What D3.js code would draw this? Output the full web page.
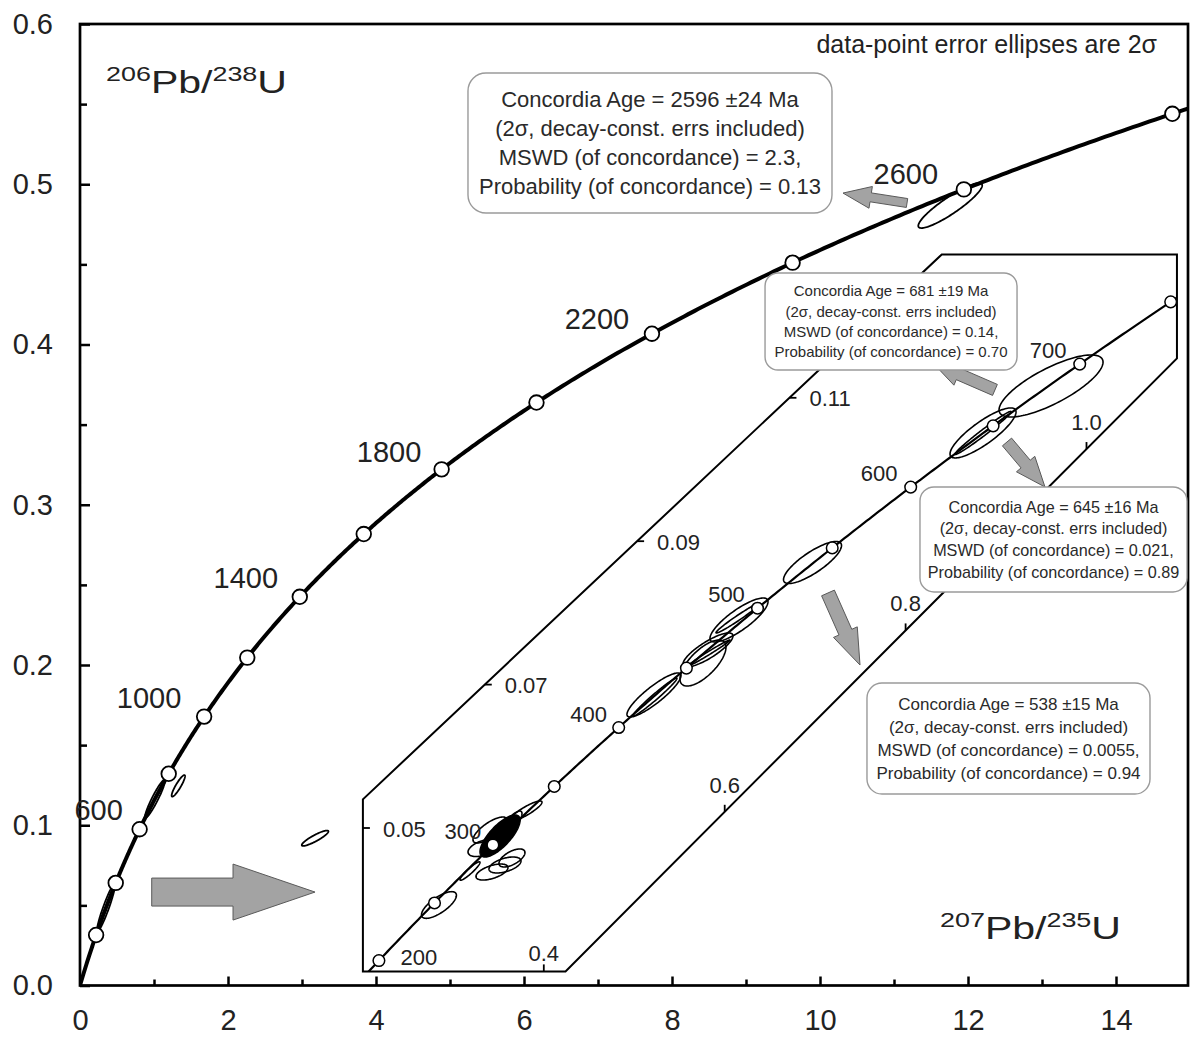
<!DOCTYPE html>
<html>
<head>
<meta charset="utf-8">
<title>U–Pb concordia diagram</title>
<script src="https://cdn.jsdelivr.net/npm/d3@7/dist/d3.min.js"></script>
<style>
  html, body { margin: 0; padding: 0; background: #fff; }
  svg { display: block; font-family: "Liberation Sans", Arial, Helvetica, sans-serif; }
</style>
</head>
<body>
<svg id="chart" width="1190" height="1037"></svg>
<script>
// ---------- decay constants (per Ma) ----------
const LAMBDA_238 = 1.55125e-4;
const LAMBDA_235 = 9.8485e-4;

// ---------- main diagram ----------
const mainXTicks = [0, 2, 4, 6, 8, 10, 12, 14];
const mainXMinorTicks = [1, 3, 5, 7, 9, 11, 13];
const mainYTicks = [0.0, 0.1, 0.2, 0.3, 0.4, 0.5, 0.6];
const mainYMinorTicks = [0.05, 0.15, 0.25, 0.35, 0.45, 0.55];
const mainMarkerAges = [200, 400, 600, 800, 1000, 1200, 1400, 1600, 1800, 2000, 2200, 2400, 2600, 2800];
const mainLabelAges = [600, 1000, 1400, 1800, 2200, 2600];
// analyses: 207Pb/235U, 206Pb/238U, 2-sigma errors, error correlation
const mainEllipses = [
  { x: 11.76,  y: 0.4867, sx: 0.432,  sy: 0.01404, rho: 0.90 },
  { x: 1.329,  y: 0.1246, sx: 0.0905, sy: 0.00674, rho: 0.90 },
  { x: 3.177,  y: 0.0919, sx: 0.180,  sy: 0.0048,  rho: 0.89 },
  { x: 0.351,  y: 0.0485, sx: 0.1216, sy: 0.01486, rho: 0.94 },
  { x: 1.0135, y: 0.1165, sx: 0.135,  sy: 0.0119,  rho: 0.94 }
];

// ---------- enlarged young part of concordia ----------
const insetXTicks = [0.4, 0.6, 0.8, 1.0];
const insetYTicks = [0.05, 0.07, 0.09, 0.11];
const insetMarkerAges = [200, 250, 300, 350, 400, 450, 500, 550, 600, 650, 700, 750];
const insetLabelAges = [200, 300, 400, 500, 600, 700];
// outline of the enlarged band (207Pb/235U, 206Pb/238U)
const insetFrame = [[0.2, 0.03], [0.2, 0.054], [0.84, 0.13], [1.1, 0.13], [1.1, 0.1155], [0.424, 0.03]];
const insetEllipses = [
  { x: 0.2841, y: 0.03926, sx: 0.0193,  sy: 0.00186,  rho: 0.73 },
  { x: 0.3328, y: 0.04721, sx: 0.01658, sy: 0.001186, rho: 0.47 },
  { x: 0.3571, y: 0.04484, sx: 0.01769, sy: 0.001116, rho: 0.50 },
  { x: 0.3427, y: 0.04386, sx: 0.01769, sy: 0.001116, rho: 0.55 },
  { x: 0.3648, y: 0.04582, sx: 0.01437, sy: 0.001255, rho: 0.60 },
  { x: 0.3184, y: 0.0440,  sx: 0.01106, sy: 0.001283, rho: 0.93 },
  { x: 0.3803, y: 0.05237, sx: 0.01769, sy: 0.001395, rho: 0.88 },
  { x: 0.3405, y: 0.04972, sx: 0.0188,  sy: 0.001813, rho: 0.75 },
  { x: 0.3604, y: 0.0500,  sx: 0.01548, sy: 0.00237,  rho: 0.85 },
  { x: 0.5218, y: 0.06855, sx: 0.02985, sy: 0.003068, rho: 0.88 },
  { x: 0.5229, y: 0.06827, sx: 0.02432, sy: 0.00265,  rho: 0.98 },
  { x: 0.5760, y: 0.07301, sx: 0.02543, sy: 0.003208, rho: 0.69 },
  { x: 0.5815, y: 0.07483, sx: 0.02764, sy: 0.00237,  rho: 0.83 },
  { x: 0.5826, y: 0.07441, sx: 0.02322, sy: 0.001813, rho: 0.99 },
  { x: 0.6158, y: 0.07901, sx: 0.03206, sy: 0.003068, rho: 0.83 },
  { x: 0.6147, y: 0.07929, sx: 0.02432, sy: 0.00209,  rho: 0.98 },
  { x: 0.6971, y: 0.08703, sx: 0.03206, sy: 0.00293,  rho: 0.81 },
  { x: 0.8856, y: 0.1051,  sx: 0.03648, sy: 0.003487, rho: 0.84 },
  { x: 0.8856, y: 0.1051,  sx: 0.0310,  sy: 0.00300,  rho: 0.985 },
  { x: 0.9608, y: 0.11165, sx: 0.05749, sy: 0.004324, rho: 0.77 }
];
// densely overlapping analyses near 300 Ma
const insetFilledEllipses = [
  { x: 0.3516, y: 0.04888, sx: 0.0221, sy: 0.00293, rho: 0.75 }
];

// ---------- concordia-age results ----------
const resultTexts = [
  ["Concordia Age = 2596 \u00b124 Ma", "(2\u03c3, decay-const. errs included)", "MSWD (of concordance) = 2.3,", "Probability (of concordance) = 0.13"],
  ["Concordia Age = 681 \u00b119 Ma", "(2\u03c3, decay-const. errs included)", "MSWD (of concordance) = 0.14,", "Probability (of concordance) = 0.70"],
  ["Concordia Age = 645 \u00b116 Ma", "(2\u03c3, decay-const. errs included)", "MSWD (of concordance) = 0.021,", "Probability (of concordance) = 0.89"],
  ["Concordia Age = 538 \u00b115 Ma", "(2\u03c3, decay-const. errs included)", "MSWD (of concordance) = 0.0055,", "Probability (of concordance) = 0.94"]
];

// ================= layout =================
const FONT = '"Liberation Sans", Arial, Helvetica, sans-serif';
const TEXT = "#222";
const svg = d3.select("#chart");

const plot = { left: 80, right: 1188, top: 24, bottom: 985.5 };
const x = d3.scaleLinear().domain([0, 15]).range([80, 1190]);
const y = d3.scaleLinear().domain([0, 0.6]).range([985.5, 24]);

const ix = d3.scaleLinear().domain([0.4, 1.0]).range([543.8, 1086.5]);
const iy = d3.scaleLinear().domain([0.05, 0.11]).range([828, 397.8]);

const conc = t => [Math.expm1(LAMBDA_235 * t), Math.expm1(LAMBDA_238 * t)];

function ellipsePoints(e, n = 120) {
  const k = Math.sqrt(1 - e.rho * e.rho);
  return d3.range(n).map(i => {
    const a = 2 * Math.PI * i / n, c = Math.cos(a), s = Math.sin(a);
    return [e.x + e.sx * c, e.y + e.sy * (e.rho * c + k * s)];
  });
}

const mainLabelOffsets = [[-41, -9], [-55, -9], [-54, -9], [-52.6, -7], [-55, -5], [-58, -5]];
const insetLabelOffsets = [[40, 4], [-30, -6], [-30, -6], [-31, -6.5], [-31.6, -6.4], [-31.5, -6]];

const boxLayout = [
  { panel: "main",  x0: 5.243,  x1: 10.162, y0: 0.4821,  y1: 0.5694, fontSize: 22, lineGap: 29,   radius: 18 },
  { panel: "inset", x0: 0.6446, x1: 0.9232, y0: 0.11388, y1: 0.1274, fontSize: 15, lineGap: 20.3, radius: 13 },
  { panel: "inset", x0: 0.8159, x1: 1.1111, y0: 0.08292, y1: 0.09756, fontSize: 16.2, lineGap: 21.7, radius: 14 },
  { panel: "inset", x0: 0.7573, x1: 1.0702, y0: 0.05474, y1: 0.07022, fontSize: 17, lineGap: 22.8, radius: 15 }
];

const arrowLayout = [
  { panel: "main",  tail: [0.969, 0.0583],   tip: [3.176, 0.0583],   shaft: 14,  head: 28, headLen: 82 },
  { panel: "main",  tail: [11.176, 0.4883],  tip: [10.311, 0.4945],  shaft: 4.5, head: 11, headLen: 28 },
  { panel: "inset", tail: [0.8988, 0.1111],  tip: [0.8303, 0.11485], shaft: 6,   head: 12, headLen: 28 },
  { panel: "inset", tail: [0.9121, 0.10384], tip: [0.9541, 0.09756], shaft: 6,   head: 12, headLen: 30 },
  { panel: "inset", tail: [0.7142, 0.08278], tip: [0.7496, 0.07273], shaft: 7,   head: 13, headLen: 36 }
];

const proj = panel => panel === "main" ? (p => [x(p[0]), y(p[1])]) : (p => [ix(p[0]), iy(p[1])]);

// ---------- clip paths ----------
const defs = svg.append("defs");
defs.append("clipPath").attr("id", "clip-main")
  .append("rect").attr("x", plot.left).attr("y", plot.top)
  .attr("width", plot.right - plot.left).attr("height", plot.bottom - plot.top);
defs.append("clipPath").attr("id", "clip-inset")
  .append("polygon").attr("points", insetFrame.map(p => [ix(p[0]), iy(p[1])].join(",")).join(" "));

// ---------- axes ----------
const yAxis = svg.append("g").attr("transform", `translate(${plot.left},0)`)
  .call(d3.axisLeft(y).tickValues(mainYTicks).tickSize(-10).tickPadding(27).tickFormat(d3.format(".1f")));
const yMinor = svg.append("g").attr("transform", `translate(${plot.left},0)`)
  .call(d3.axisLeft(y).tickValues(mainYMinorTicks).tickSize(-7).tickFormat(""));
const xAxis = svg.append("g").attr("transform", `translate(0,${plot.bottom})`)
  .call(d3.axisBottom(x).tickValues(mainXTicks).tickSize(-9).tickPadding(24).tickFormat(d3.format("d")));
const xMinor = svg.append("g").attr("transform", `translate(0,${plot.bottom})`)
  .call(d3.axisBottom(x).tickValues(mainXMinorTicks).tickSize(-6).tickFormat(""));
[yAxis, yMinor, xAxis, xMinor].forEach(g => {
  g.select(".domain").remove();
  g.attr("font-family", FONT).attr("font-size", 29);
  g.selectAll(".tick line").attr("stroke", "#000").attr("stroke-width", 2.5);
  g.selectAll(".tick text").attr("fill", TEXT);
});
xAxis.selectAll(".tick text").attr("dy", "0.71em");

// plot frame
svg.append("rect")
  .attr("x", plot.left).attr("y", plot.top)
  .attr("width", plot.right - plot.left).attr("height", plot.bottom - plot.top)
  .attr("fill", "none").attr("stroke", "#000").attr("stroke-width", 2.7);

// ---------- main concordia ----------
const mainG = svg.append("g").attr("clip-path", "url(#clip-main)");
const lineMain = d3.line().x(d => x(d[0])).y(d => y(d[1]));
const closedMain = d3.line().x(d => x(d[0])).y(d => y(d[1])).curve(d3.curveLinearClosed);
mainG.append("path")
  .attr("d", lineMain(d3.range(0, 3001, 5).map(conc)))
  .attr("fill", "none").attr("stroke", "#000").attr("stroke-width", 4);

mainG.selectAll("path.ell").data(mainEllipses).join("path")
  .attr("class", "ell")
  .attr("d", e => closedMain(ellipsePoints(e)))
  .attr("fill", "none").attr("stroke", "#000").attr("stroke-width", 1.8);

mainG.selectAll("circle").data(mainMarkerAges).join("circle")
  .attr("cx", t => x(conc(t)[0])).attr("cy", t => y(conc(t)[1])).attr("r", 7.3)
  .attr("fill", "#fff").attr("stroke", "#000").attr("stroke-width", 1.8);

svg.append("g").selectAll("text").data(mainLabelAges).join("text")
  .attr("x", (t, i) => x(conc(t)[0]) + mainLabelOffsets[i][0])
  .attr("y", (t, i) => y(conc(t)[1]) + mainLabelOffsets[i][1])
  .attr("text-anchor", "middle").attr("font-size", 29).attr("fill", TEXT)
  .text(t => t);

// ---------- enlarged band ----------
const insetG = svg.append("g");
insetG.append("polygon")
  .attr("points", insetFrame.map(p => [ix(p[0]), iy(p[1])].join(",")).join(" "))
  .attr("fill", "#fff").attr("stroke", "#000").attr("stroke-width", 2).attr("stroke-linejoin", "miter");

const lineInset = d3.line().x(d => ix(d[0])).y(d => iy(d[1]));
const closedInset = d3.line().x(d => ix(d[0])).y(d => iy(d[1])).curve(d3.curveLinearClosed);
const insetClip = insetG.append("g").attr("clip-path", "url(#clip-inset)");
insetClip.append("path")
  .attr("d", lineInset(d3.range(180, 772, 2).map(conc)))
  .attr("fill", "none").attr("stroke", "#000").attr("stroke-width", 2.2);

insetClip.selectAll("path.ell").data(insetEllipses).join("path")
  .attr("class", "ell")
  .attr("d", e => closedInset(ellipsePoints(e)))
  .attr("fill", "none").attr("stroke", "#000").attr("stroke-width", 1.6);
insetClip.selectAll("path.fill").data(insetFilledEllipses).join("path")
  .attr("class", "fill")
  .attr("d", e => closedInset(ellipsePoints(e)))
  .attr("fill", "#000").attr("stroke", "#000").attr("stroke-width", 1.6);

insetClip.selectAll("circle").data(insetMarkerAges).join("circle")
  .attr("cx", t => ix(conc(t)[0])).attr("cy", t => iy(conc(t)[1])).attr("r", 5.8)
  .attr("fill", "#fff").attr("stroke", "#000").attr("stroke-width", 1.5);

insetG.selectAll("text.age").data(insetLabelAges).join("text")
  .attr("class", "age")
  .attr("x", (t, i) => ix(conc(t)[0]) + insetLabelOffsets[i][0])
  .attr("y", (t, i) => iy(conc(t)[1]) + insetLabelOffsets[i][1])
  .attr("text-anchor", "middle").attr("font-size", 22).attr("fill", TEXT)
  .text(t => t);

// ticks placed where grid values meet the band outline
const edges = insetFrame.map((p, i) => [p, insetFrame[(i + 1) % insetFrame.length]]);
function yTickPoint(v) {
  let best = null;
  edges.forEach(([a, b]) => {
    if (a[1] === b[1]) return;
    const f = (v - a[1]) / (b[1] - a[1]);
    if (f < 0 || f > 1) return;
    const xv = a[0] + f * (b[0] - a[0]);
    if (!best || xv < best[0]) best = [xv, v];
  });
  return best;
}
function xTickPoint(v) {
  let best = null;
  edges.forEach(([a, b]) => {
    if (a[0] === b[0]) return;
    const f = (v - a[0]) / (b[0] - a[0]);
    if (f < 0 || f > 1) return;
    const yv = a[1] + f * (b[1] - a[1]);
    if (!best || yv < best[1]) best = [v, yv];
  });
  return best;
}
const yTickG = insetG.append("g").selectAll("g").data(insetYTicks).join("g")
  .attr("transform", v => { const p = yTickPoint(v); return `translate(${ix(p[0])},${iy(p[1])})`; });
yTickG.append("line").attr("x2", 7).attr("stroke", "#000").attr("stroke-width", 1.8);
yTickG.append("text").attr("x", 20).attr("y", 8.5).attr("font-size", 22).attr("fill", TEXT)
  .text(v => d3.format(".2f")(v));

const xTickG = insetG.append("g").selectAll("g").data(insetXTicks).join("g")
  .attr("transform", v => { const p = xTickPoint(v); return `translate(${ix(p[0])},${iy(p[1])})`; });
xTickG.append("line").attr("y2", -7).attr("stroke", "#000").attr("stroke-width", 1.8);
xTickG.append("text").attr("text-anchor", "middle")
  .attr("y", v => xTickPoint(v)[1] <= insetFrame[0][1] + 1e-9 ? -10 : -19)
  .attr("font-size", 22).attr("fill", TEXT)
  .text(v => d3.format(".1f")(v));

// ---------- pointer arrows ----------
function arrowPolygon(T, P, s, h, L) {
  const dx = P[0] - T[0], dy = P[1] - T[1], len = Math.hypot(dx, dy);
  const ux = dx / len, uy = dy / len, nx = -uy, ny = ux;
  const B = [P[0] - ux * L, P[1] - uy * L];
  return [
    [T[0] + nx * s, T[1] + ny * s], [B[0] + nx * s, B[1] + ny * s], [B[0] + nx * h, B[1] + ny * h],
    P,
    [B[0] - nx * h, B[1] - ny * h], [B[0] - nx * s, B[1] - ny * s], [T[0] - nx * s, T[1] - ny * s]
  ];
}
svg.append("g").selectAll("polygon").data(arrowLayout).join("polygon")
  .attr("points", a => {
    const pr = proj(a.panel);
    return arrowPolygon(pr(a.tail), pr(a.tip), a.shaft, a.head, a.headLen).map(p => p.join(",")).join(" ");
  })
  .attr("fill", "#a3a3a3").attr("stroke", "#5a5a5a").attr("stroke-width", 1).attr("stroke-linejoin", "miter");

// ---------- result boxes ----------
const boxG = svg.append("g").selectAll("g").data(boxLayout).join("g");
boxG.each(function (b, i) {
  const g = d3.select(this), pr = proj(b.panel);
  const p0 = pr([b.x0, b.y1]), p1 = pr([b.x1, b.y0]);
  const w = p1[0] - p0[0], h = p1[1] - p0[1];
  g.append("rect").attr("x", p0[0]).attr("y", p0[1]).attr("width", w).attr("height", h)
    .attr("rx", b.radius).attr("ry", b.radius)
    .attr("fill", "#fff").attr("stroke", "#9a9a9a").attr("stroke-width", 1.4);
  const first = p0[1] + (h - 3 * b.lineGap) / 2 + 0.35 * b.fontSize;
  g.selectAll("text").data(resultTexts[i]).join("text")
    .attr("x", p0[0] + w / 2).attr("y", (d, j) => first + j * b.lineGap)
    .attr("text-anchor", "middle").attr("font-size", b.fontSize).attr("fill", "#2a2a2a")
    .text(d => d);
});

// ---------- titles ----------
function isotopeTitle(parts, x0, baseline, width) {
  const t = svg.append("text").attr("font-size", 32).attr("fill", TEXT);
  let raised = false;
  parts.forEach(p => {
    const s = t.append("tspan").text(p.text);
    if (p.sup) { s.attr("font-size", 21).attr("dy", raised ? 0 : -12); raised = true; }
    else { s.attr("dy", raised ? 12 : 0); raised = false; }
  });
  const natural = t.node().getComputedTextLength();
  t.attr("transform", `translate(${x0},${baseline}) scale(${width / natural},1)`);
}
isotopeTitle([{ text: "206", sup: true }, { text: "Pb/" }, { text: "238", sup: true }, { text: "U" }], 106, 93, 181);
isotopeTitle([{ text: "207", sup: true }, { text: "Pb/" }, { text: "235", sup: true }, { text: "U" }], 940, 939, 181);

svg.append("text").attr("x", 1157).attr("y", 53).attr("text-anchor", "end")
  .attr("font-size", 25).attr("fill", TEXT)
  .text("data-point error ellipses are 2\u03c3");
</script>
</body>
</html>
